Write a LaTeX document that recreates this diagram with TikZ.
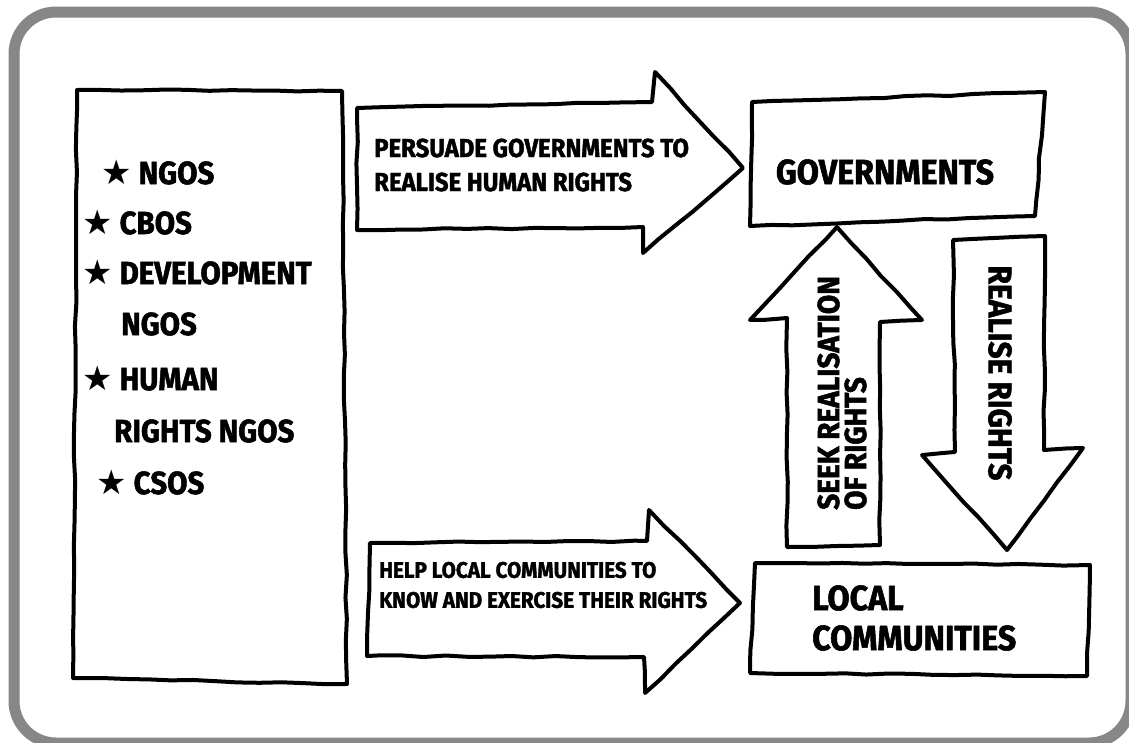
\documentclass[tikz,border=0pt]{standalone}
\usepackage{fontspec}
\setmainfont{Fira Sans}[FakeStretch=0.92, BoldFeatures={FakeBold=1.6}]
\newfontfamily\symfont{DejaVu Sans}
\usetikzlibrary{decorations.pathmorphing}
\definecolor{framegray}{HTML}{878787}
\tikzset{
  sketch/.style={draw=black, line width=4pt, line join=round, fill=white,
    decorate, decoration={random steps, segment length=22pt, amplitude=0.8pt}},
  lbl/.style={inner sep=0pt, font=\bfseries, text=black},
  item/.style={lbl, anchor=west, font=\bfseries\fontsize{32}{36}\selectfont},
}
\newcommand{\st}{{\mdseries\symfont\fontsize{34}{34}\selectfont ★}}
\begin{document}
\begin{tikzpicture}[x=1pt,y=-1pt]
\pgfmathsetseed{7}
\useasboundingbox (0,0) rectangle (1129,742);
\fill[white] (0,0) rectangle (1129,742);
% frame
\draw[framegray, line width=11pt, rounded corners=42pt] (14,12) rectangle (1131,743);

% left box
\draw[sketch] (77,90) -- (342,91) -- (347,684) -- (73,678) -- cycle;
\node[item] (i1) at (101,172) {\st\ NGOS};
\node[item] (i2) at (82,222) {\st\ CBOS};
\node[item] (i3) at (82,272) {\st\ DEVELOPMENT};
\node[item] (i4) at (121,324) {NGOS};
\node[item] (i5) at (82,378) {\st\ HUMAN};
\node[item] (i6) at (114,431) {RIGHTS NGOS};
\node[item] (i7) at (96,482) {\st\ CSOS};

% top arrow
\draw[sketch] (357,108) -- (652,102) -- (655,72) -- (743,168) -- (643,253) -- (643,227) -- (357,230) -- cycle;
\node[lbl, anchor=west, align=left, font=\bfseries\fontsize{26}{34}\selectfont] (t1) at (374,165)
  {PERSUADE GOVERNMENTS TO\\REALISE HUMAN RIGHTS};

% bottom arrow
\draw[sketch] (370,543) -- (647,541) -- (649,510) -- (740,603) -- (645,693) -- (644,657) -- (367,656) -- cycle;
\node[lbl, anchor=west, align=left, font=\bfseries\fontsize{22.5}{30}\selectfont] (t2) at (379,585)
  {HELP LOCAL COMMUNITIES TO\\KNOW AND EXERCISE THEIR RIGHTS};

% governments box
\draw[sketch] (752,102) -- (1045,92) -- (1035,216) -- (750,226) -- cycle;
\node[lbl, font=\bfseries\fontsize{35}{40}\selectfont] (gov) at (885,172) {GOVERNMENTS};

% local communities box
\draw[sketch] (755,563) -- (1090,565) -- (1087,676) -- (750,673) -- cycle;
\node[lbl, anchor=west, align=left, font=\bfseries\fontsize{35}{40}\selectfont] (loc) at (812,618)
  {LOCAL\\COMMUNITIES};

% up arrow
\draw[sketch] (787,547) -- (787,318) -- (750,320) -- (837,227) -- (922,320) -- (880,322) -- (880,545) -- cycle;
\node[lbl, rotate=90, anchor=west, align=left, font=\bfseries\fontsize{30.5}{27}\selectfont] (seek) at (842,510)
  {SEEK REALISATION\\OF RIGHTS};

% down arrow
\draw[sketch] (953,240) -- (1045,236) -- (1044,450) -- (1083,448) -- (1007,550) -- (922,455) -- (955,452) -- cycle;
\node[lbl, rotate=-90, font=\bfseries\fontsize{32.5}{30}\selectfont] (real) at (1000,373) {REALISE RIGHTS};
\end{tikzpicture}
\end{document}
